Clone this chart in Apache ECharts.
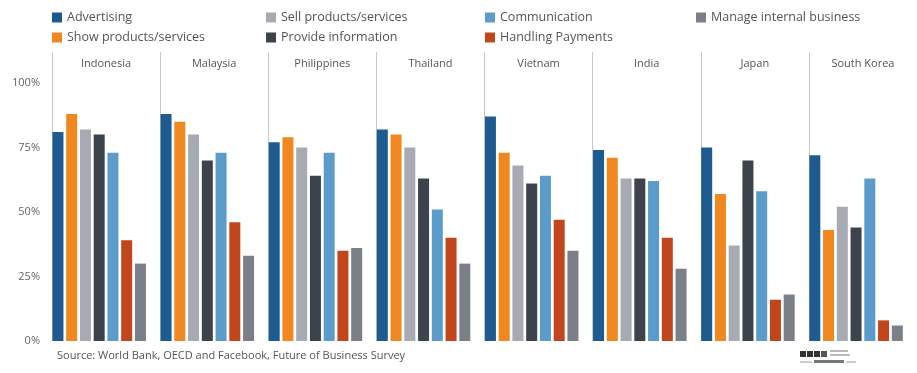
<!DOCTYPE html>
<html>
<head>
<meta charset="utf-8">
<script src="https://cdn.jsdelivr.net/npm/echarts@6/dist/echarts.min.js"></script>
<style>
html,body{margin:0;padding:0;background:#fff;}
#chart{width:917px;height:373px;}
</style>
</head>
<body>
<div id="chart"></div>
<script>
const categories = ['Indonesia','Malaysia','Philippines','Thailand','Vietnam','India','Japan','South Korea'];
const seriesNames = ['Advertising','Show products/services','Sell products/services','Provide information','Communication','Handling Payments','Manage internal business'];
const advertising      = [81, 88, 77, 82, 87, 74, 75, 72];
const showProducts     = [88, 85, 79, 80, 73, 71, 57, 43];
const sellProducts     = [82, 80, 75, 75, 68, 63, 37, 52];
const provideInfo      = [80, 70, 64, 63, 61, 63, 70, 44];
const communication    = [73, 73, 73, 51, 64, 62, 58, 63];
const handlingPayments = [39, 46, 35, 40, 47, 40, 16, 8];
const manageInternal   = [30, 33, 36, 30, 35, 28, 18, 6];
const yTicks = [0, 25, 50, 75, 100];

const values = [advertising, showProducts, sellProducts, provideInfo, communication, handlingPayments, manageInternal];
const colors = ['#1d5b91', '#f0871f', '#a7aab2', '#3c434c', '#5c9ccb', '#c1461b', '#7b7f87'];
const FONT = 'Open Sans';

const chart = echarts.init(document.getElementById('chart'), null, {renderer: 'canvas'});

const series = seriesNames.map((n, i) => ({
  name: n, type: 'bar', data: values[i], barWidth: 11, barGap: '25%',
  itemStyle: {color: colors[i]}, silent: true
}));
// empty slot so bars sit at the left side of each panel
series.push({name: 'pad', type: 'bar', data: [], barWidth: 11, barGap: '25%'});

const legendPos = [
  [52, 11], [52, 31], [266, 11], [266, 31], [485, 11], [485, 31], [696, 11]
];
const legends = seriesNames.map((n, i) => ({
  data: [n], left: legendPos[i][0], top: legendPos[i][1],
  icon: 'rect', itemWidth: 10, itemHeight: 10, itemGap: 6, padding: 0,
  selectedMode: false,
  textStyle: {fontFamily: FONT, fontSize: 12.5, color: '#555'}
}));

chart.setOption({
  animation: false,
  color: colors,
  legend: legends,
  grid: {left: 52, top: 52, bottom: 32, width: 870, containLabel: false},
  xAxis: {
    type: 'category', data: categories, position: 'top',
    axisLine: {show: false}, axisTick: {show: false},
    axisLabel: {inside: true, margin: 6, fontFamily: FONT, fontSize: 11, color: '#555'},
    splitLine: {show: true, lineStyle: {color: '#c8c8c8', width: 1}}
  },
  yAxis: {
    type: 'value', min: 0, max: 112, interval: 25,
    axisLine: {show: false}, axisTick: {show: false}, splitLine: {show: false},
    axisLabel: {
      margin: 12, fontFamily: FONT, fontSize: 11, color: '#666',
      formatter: v => yTicks.indexOf(v) >= 0 ? v + '%' : ''
    }
  },
  series: series,
  graphic: [
    {type: 'text', left: 57, top: 350,
     style: {text: 'Source: World Bank, OECD and Facebook, Future of Business Survey',
             font: '11px "Open Sans"', fill: '#555'}},
    {type: 'group', left: 800, top: 350, children: [
      {type: 'rect', shape: {x: 0, y: 2, width: 6, height: 6}, style: {fill: '#333'}},
      {type: 'rect', shape: {x: 7, y: 2, width: 6, height: 6}, style: {fill: '#333'}},
      {type: 'rect', shape: {x: 14, y: 2, width: 6, height: 6}, style: {fill: '#333'}},
      {type: 'rect', shape: {x: 21, y: 2, width: 6, height: 6}, style: {fill: '#555'}},
      {type: 'rect', shape: {x: 30, y: 1, width: 18, height: 2}, style: {fill: '#bbb'}},
      {type: 'rect', shape: {x: 30, y: 5, width: 20, height: 2}, style: {fill: '#bbb'}},
      {type: 'rect', shape: {x: 0, y: 12, width: 12, height: 2}, style: {fill: '#ccc'}},
      {type: 'rect', shape: {x: 14, y: 11, width: 30, height: 3}, style: {fill: '#777'}},
      {type: 'rect', shape: {x: 46, y: 12, width: 10, height: 2}, style: {fill: '#ccc'}}
    ]}
  ]
});
</script>
</body>
</html>
